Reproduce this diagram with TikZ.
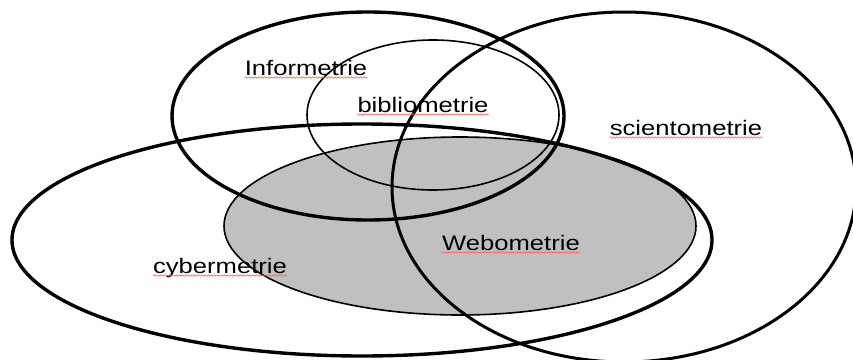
\documentclass[tikz,border=0pt]{standalone}
\usepackage{fontspec}
\setmainfont{Liberation Sans}
\usetikzlibrary{decorations.pathmorphing}
\tikzset{
  thickring/.style={draw=black, line width=3.4pt},
  thinring/.style={draw=black, line width=1.6pt},
  label/.style={inner sep=0pt, anchor=base, font=\fontsize{21}{24}\selectfont},
  spell/.style={draw=red!65, line width=0.6pt, decorate,
    decoration={snake, segment length=3.2pt, amplitude=0.7pt}}
}
\newcommand{\wide}[1]{\scalebox{1.22}[1]{#1}}
\begin{document}
\begin{tikzpicture}[x=1pt, y=-1pt]
\useasboundingbox (0,0) rectangle (853,359);
\fill[white] (0,0) rectangle (853,359);
\clip (0,0) rectangle (853,359);
% Webometrie (grey)
\path[fill={rgb,255:red,192;green,192;blue,192}, thinring] (460,226) ellipse [x radius=236, y radius=89];
% bibliometrie (thin)
\path[thinring] (433,115) ellipse [x radius=126, y radius=75];
% Informetrie
\path[thickring] (368,116) ellipse [x radius=196, y radius=104];
% cybermetrie
\path[thickring] (362,240) ellipse [x radius=350, y radius=116];
% scientometrie
\path[thickring, line width=3pt] (624,187) ellipse [x radius=232, y radius=175];
% labels
\node[label] (inf) at (306,75) {\wide{Informetrie}};
\node[label] (bib) at (423,112) {\wide{bibliometrie}};
\node[label] (cyb) at (220,273) {\wide{cybermetrie}};
\node[label] (web) at (511,250) {\wide{Webometrie}};
\node[label] (sci) at (686,135) {\wide{scientometrie}};
\foreach \n in {inf,bib,cyb,web,sci}
  \draw[spell] ([yshift=-2.5pt]\n.base west) -- ([yshift=-2.5pt]\n.base east);
\end{tikzpicture}
\end{document}
